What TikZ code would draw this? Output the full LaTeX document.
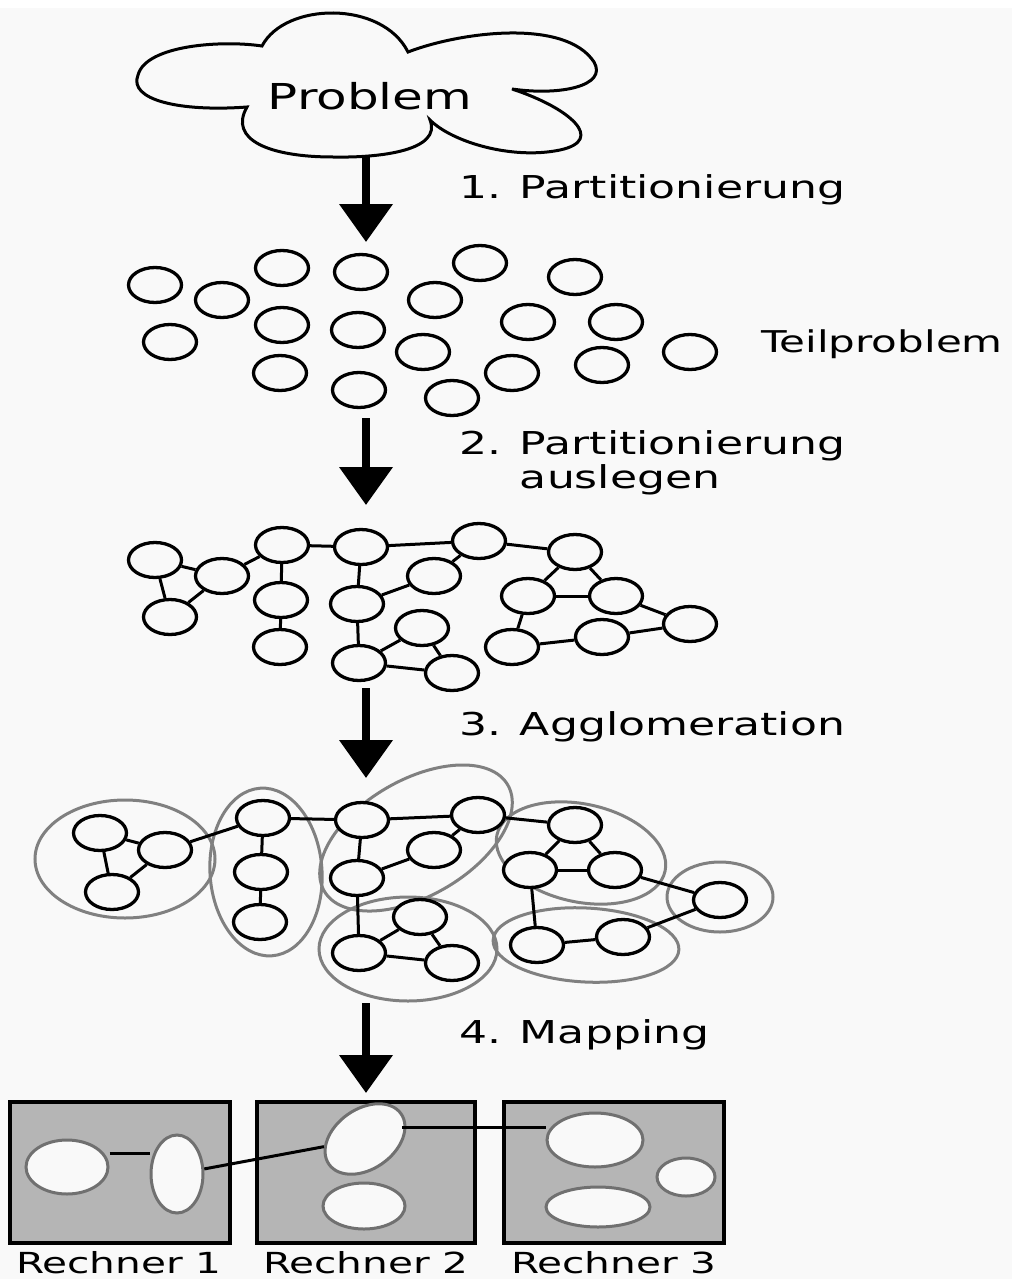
\documentclass[tikz,border=0pt]{standalone}
\usepackage{fontspec}
\setmainfont{DejaVu Sans}[FakeStretch=1.4]
\usetikzlibrary{arrows.meta,shapes.geometric}
\definecolor{bg}{HTML}{F9F9F9}
\definecolor{grp}{HTML}{808080}
\definecolor{box}{HTML}{B5B5B5}
\definecolor{blobline}{HTML}{707070}
\tikzset{
  sub/.style={draw=black,line width=3.3pt,fill=bg,ellipse,minimum width=53pt,minimum height=35pt,inner sep=0pt},
  lnk/.style={draw=black,line width=3pt},
  grpe/.style={draw=grp,line width=3pt},
  bigarrow/.style={line width=7.5pt,-{Triangle[width=52pt,length=38pt]}},
  lbl/.style={anchor=base west,inner sep=0pt,font=\fontsize{31.5}{34}\selectfont,align=left},
  rbox/.style={draw=black,line width=3.5pt,fill=box},
  blob/.style={draw=blobline,line width=3pt,fill=bg,ellipse,inner sep=0pt},
  rlbl/.style={anchor=base,inner sep=0pt,font=\fontsize{29}{30}\selectfont}
}
\begin{document}
\begin{tikzpicture}[x=1pt,y=-1pt]
\path[use as bounding box,fill=bg] (0,0) rectangle (1012,1279);
\fill[white] (0,0) rectangle (1012,8);

% cloud
\draw[line width=3pt,fill=bg] (262,46) .. controls (285,2) and (382,0) .. (408,52)
  .. controls (460,32) and (565,18) .. (594,62)
  .. controls (608,86) and (560,96) .. (512,89)
  .. controls (570,108) and (606,140) .. (560,150)
  .. controls (512,160) and (452,142) .. (430,120)
  .. controls (442,150) and (382,158) .. (333,157)
  .. controls (270,157) and (228,140) .. (247,107)
  .. controls (180,112) and (128,100) .. (138,75)
  .. controls (146,45) and (222,40) .. (262,46) -- cycle;
\node[anchor=base,inner sep=0pt,font=\fontsize{35.7}{36}\selectfont] (prob) at (370,110) {Problem};

\coordinate (a1s) at (366,157);
\coordinate (a1e) at (366,242);
\coordinate (a2s) at (366,418);
\coordinate (a2e) at (366,505);
\coordinate (a3s) at (366,688);
\coordinate (a3e) at (366,778);
\coordinate (a4s) at (366,1003);
\coordinate (a4e) at (366,1093);
\draw[bigarrow] (a1s) -- (a1e);
\draw[bigarrow] (a2s) -- (a2e);
\draw[bigarrow] (a3s) -- (a3e);
\draw[bigarrow] (a4s) -- (a4e);

\node[lbl] (t1) at (459,198) {1. Partitionierung};
\node[lbl,font=\fontsize{30}{34}\selectfont] (t0) at (761,352) {Teilproblem};
\node[lbl] (t2) at (459,488) {2. Partitionierung\\\phantom{2. }auslegen};
\node[lbl] (t3) at (459,735) {3. Agglomeration};
\node[lbl] (t4) at (459,1043) {4. Mapping};

% section 2: loose subproblems
\foreach \n/\x/\y in {p1/155/285,p2/222/300,p3/282/268,p4/361/272,p5/480/263,p6/575/277,
  p7/170/342,p8/282/325,p9/358/330,p10/435/300,p11/528/322,p12/616/322,p13/690/352,
  p14/280/373,p15/359/390,p16/423/352,p17/512/373,p18/602/365,p19/452/398}
  \node[sub] (\n) at (\x,\y) {};

% section 3: graph
\foreach \n/\x/\y in {a/155/560,b/222/576,c/170/617,d/282/545,e/281/600,f/280/647,
  g/361/547,h/357/604,i/434/576,j/479/541,k/422/628,l/359/663,m/452/673,
  n/575/552,o/528/596,p/616/596,q/690/624,r/512/647,s/602/637}
  \node[sub] (\n) at (\x,\y) {};
\foreach \u/\v in {a/b,a/c,b/c,b/d,d/e,e/f,d/g,g/h,g/j,h/i,i/j,h/l,l/k,l/m,k/m,
  j/n,n/o,n/p,o/p,p/q,q/s,s/r,r/o}
  \draw[lnk] (\u) -- (\v);

% section 4: agglomeration groups
\draw[grpe] (125,859) ellipse [x radius=90, y radius=59];
\draw[grpe] (266,872) ellipse [x radius=56, y radius=84, rotate=4];
\draw[grpe] (416,838) ellipse [x radius=106, y radius=58, rotate=30];
\draw[grpe] (408,949) ellipse [x radius=89, y radius=52];
\draw[grpe] (581,853) ellipse [x radius=86, y radius=49, rotate=-12];
\draw[grpe] (720,897) ellipse [x radius=53, y radius=35];
\draw[grpe] (586,945) ellipse [x radius=93, y radius=37, rotate=-3];
\foreach \n/\x/\y in {A1/100/833,A2/165/850,A3/112/892,B1/263/818,B2/261/872,B3/260/922,
  C1/362/820,C2/478/815,C3/434/850,C4/357/878,D1/420/917,D2/359/953,D3/452/963,
  E1/575/825,E2/530/870,E3/615/870,F/720/900,G1/537/945,G2/623/937}
  \node[sub] (\n) at (\x,\y) {};
\foreach \u/\v in {A1/A2,A1/A3,A2/A3,A2/B1,B1/B2,B2/B3,B1/C1,C1/C2,C1/C4,C4/C3,C3/C2,
  C4/D2,D2/D1,D2/D3,D1/D3,C2/E1,E1/E2,E1/E3,E2/E3,E3/F,F/G2,G2/G1,G1/E2}
  \draw[lnk] (\u) -- (\v);

% section 5: mapping
\draw[rbox] (10,1102) rectangle (230,1243);
\draw[rbox] (257,1102) rectangle (475,1243);
\draw[rbox] (504,1102) rectangle (724,1243);
\node[blob,minimum width=82pt,minimum height=54pt] (r1a) at (67,1167) {};
\node[blob,minimum width=52pt,minimum height=78pt] (r1b) at (177,1174) {};
\node[blob,minimum width=88pt,minimum height=60pt,rotate=35] (r2a) at (365,1139) {};
\node[blob,minimum width=82pt,minimum height=46pt] (r2b) at (364,1206) {};
\node[blob,minimum width=96pt,minimum height=54pt] (r3a) at (595,1140) {};
\node[blob,minimum width=58pt,minimum height=38pt] (r3b) at (686,1177) {};
\node[blob,minimum width=104pt,minimum height=40pt] (r3c) at (598,1207) {};
\draw[lnk] (r1a.east |- 0,1153) -- (r1b.west |- 0,1153);
\draw[lnk] (r1b) -- (r2a);
\draw[lnk] (r2a.east |- 0,1127) -- (r3a.west |- 0,1127);
\node[rlbl] (c1) at (119,1273) {Rechner 1};
\node[rlbl] (c2) at (366,1273) {Rechner 2};
\node[rlbl] (c3) at (614,1273) {Rechner 3};
\end{tikzpicture}
\end{document}
